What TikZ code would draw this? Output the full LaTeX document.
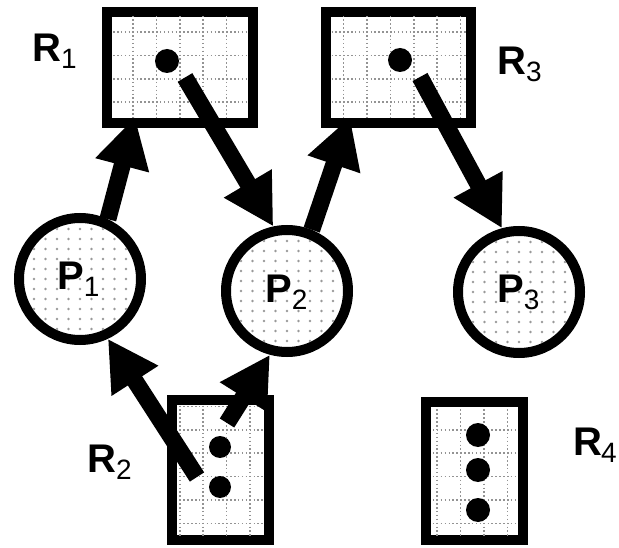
\documentclass[tikz,border=0pt]{standalone}
\usepackage{fontspec}
\setmainfont{Liberation Sans}
\usetikzlibrary{arrows.meta,calc}

% lowered subscript in regular weight
\newcommand\lsub[1]{\raisebox{-7pt}{\fontsize{28}{28}\selectfont\mdseries #1}}

\tikzset{
  resbox/.style={rectangle, draw, line width=10pt, inner sep=0pt},
  proc/.style={circle, draw, line width=10pt, minimum size=122pt, inner sep=0pt},
  tok/.style={circle, fill, inner sep=0pt, minimum size=24pt},
  lbl/.style={inner sep=0pt, anchor=base west, font=\fontsize{40}{40}\selectfont\bfseries},
  gridln/.style={gray!85, line width=1.5pt, dash pattern=on 1.5pt off 2.4pt},
  dotc/.style={gray!80},
  big/.style={line width=17pt, -{Triangle[length=50pt,width=52pt]}},
}

% dotted grid clipped to the inside of a resource box
\newcommand\gridfill[1]{%
  \begin{scope}
    \clip ($(#1.south west)+(10,-10)$) rectangle ($(#1.north east)+(-10,10)$);
    \foreach \k in {-6,...,20} \draw[gridln] ({133+23.4*\k},0) -- ++(0,548);
    \foreach \k in {-2,...,22} \draw[gridln] (0,{32+23.4*\k}) -- ++(619,0);
  \end{scope}}

% dot stipple clipped to the inside of a process circle
\newcommand\stipple[1]{%
  \begin{scope}
    \clip (#1.center) circle[radius=56];
    \foreach \i in {-5,...,5}
      \foreach \j in {-6,...,6}
        \fill[dotc] ($(#1.center)+(11.5*\i,10*\j)$) circle[radius=1.3];
  \end{scope}}

\begin{document}
\begin{tikzpicture}[x=1pt,y=-1pt]
\useasboundingbox (0,0) rectangle (619,548);

% resources
\node[resbox, minimum width=146pt, minimum height=111pt] (R1) at (180,67.5) {};
\node[resbox, minimum width=145pt, minimum height=111pt] (R3) at (398.5,67.5) {};
\node[resbox, minimum width=97pt, minimum height=140pt] (R2) at (220.5,470) {};
\node[resbox, minimum width=97pt, minimum height=138pt] (R4) at (474.5,471) {};

% processes
\node[proc] (P1) at (80,279) {};
\node[proc] (P2) at (287,291) {};
\node[proc] (P3) at (519,292) {};

\gridfill{R1}
\gridfill{R3}
\gridfill{R2}
\gridfill{R4}
\stipple{P1}
\stipple{P2}
\stipple{P3}

% resource instances
\node[tok] (d1) at (167,61) {};
\node[tok] (d3) at (400,60) {};
\node[tok, minimum size=22pt] (d2a) at (220,447) {};
\node[tok, minimum size=22pt] (d2b) at (220,487) {};
\node[tok] (d4a) at (478,435) {};
\node[tok] (d4b) at (478,470) {};
\node[tok] (d4c) at (478,510) {};

% labels
\node[lbl] (LR1) at (32,62) {R\lsub{1}};
\node[lbl] (LR3) at (497,75) {R\lsub{3}};
\node[lbl] (LR2) at (87,472) {R\lsub{2}};
\node[lbl] (LR4) at (573,455) {R\kern-1pt\lsub{4}};
\node[lbl] (LP1) at (57,290) {P\lsub{1}};
\node[lbl] (LP2) at (265,303) {P\lsub{2}};
\node[lbl] (LP3) at (497,303) {P\lsub{3}};

% request and assignment edges
\coordinate (t2) at ($(d1)+(18,16.5)$);
\coordinate (t4) at ($(d3)+(20,17)$);
\coordinate (t5) at ($(d2b)+(-23,-10)$);
\coordinate (t6) at ($(d2a)+(7,-24)$);
\coordinate (h1) at ($(R1.south)+(-45,-11)$);
\coordinate (h3) at ($(R3.south)+(-48.5,-11)$);

\draw[big] (P1.65) -- (h1);
\draw[big] (t2) -- (P2.102);
\draw[big] (P2.68) -- (h3);
\draw[big] (t4) -- (P3.105);
\draw[big] (t5) -- (P1.-65);
\draw[big] (t6) -- (P2.-105);
\end{tikzpicture}
\end{document}
